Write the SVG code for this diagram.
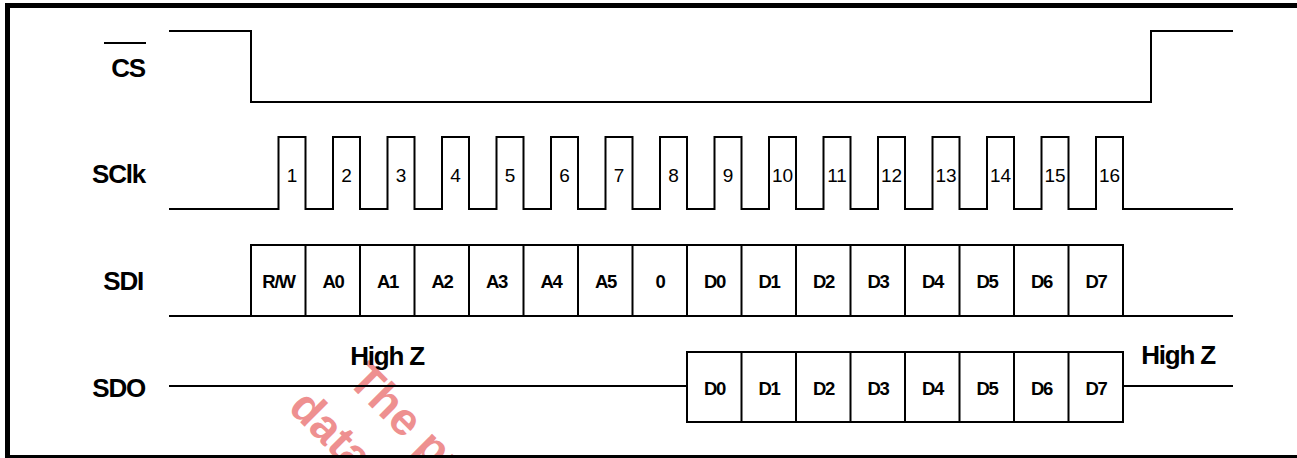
<svg xmlns="http://www.w3.org/2000/svg" width="1297" height="458" viewBox="0 0 1297 458">
<style>
.w{fill:none;stroke:#000;stroke-width:2}
.lbl{font-family:"Liberation Sans",Arial,sans-serif;font-weight:bold;font-size:26px;letter-spacing:-1.2px;fill:#000}
.cell{font-family:"Liberation Sans",Arial,sans-serif;font-weight:bold;font-size:18.5px;letter-spacing:-1.2px;fill:#000;text-anchor:middle}
.num{font-family:"Liberation Sans",Arial,sans-serif;font-size:19px;fill:#000;text-anchor:middle}
.wm{font-family:"Liberation Sans",Arial,sans-serif;font-weight:bold;font-size:46px;fill:#ee9090}
</style>
<rect x="0" y="0" width="1297" height="458" fill="#fff"/>
<g id="watermark">
<text class="wm" transform="translate(346,382) rotate(45)">The pr</text>
<text class="wm" transform="translate(287,409) rotate(45)">data</text>
</g>
<g id="frame"><rect x="7.5" y="5.5" width="1300" height="452" fill="none" stroke="#000" stroke-width="5"/></g>
<g id="cs">
<text class="lbl" x="145" y="77" text-anchor="end">CS</text>
<line x1="104" y1="43" x2="146" y2="43" stroke="#000" stroke-width="2"/>
<path class="w" d="M169,31 H251 V102 H1151 V31 H1233"/>
</g>
<g id="sclk">
<text class="lbl" x="145" y="183" text-anchor="end">SClk</text>
<path class="w" d="M169,209 H278.5 V137 H305.5 V209 H333 V137 H360 V209 H387.5 V137 H414.5 V209 H442 V137 H469 V209 H496.5 V137 H523.5 V209 H551 V137 H578 V209 H605.5 V137 H632.5 V209 H660 V137 H687 V209 H714.5 V137 H741.5 V209 H769 V137 H796 V209 H823.5 V137 H850.5 V209 H878 V137 H905 V209 H932.5 V137 H959.5 V209 H987 V137 H1014 V209 H1041.5 V137 H1068.5 V209 H1096 V137 H1123 V209 H1233"/>
<text class="num" x="292" y="182">1</text>
<text class="num" x="346.5" y="182">2</text>
<text class="num" x="401" y="182">3</text>
<text class="num" x="455.5" y="182">4</text>
<text class="num" x="510" y="182">5</text>
<text class="num" x="564.5" y="182">6</text>
<text class="num" x="619" y="182">7</text>
<text class="num" x="673.5" y="182">8</text>
<text class="num" x="728" y="182">9</text>
<text class="num" x="782.5" y="182">10</text>
<text class="num" x="837" y="182">11</text>
<text class="num" x="891.5" y="182">12</text>
<text class="num" x="946" y="182">13</text>
<text class="num" x="1000.5" y="182">14</text>
<text class="num" x="1055" y="182">15</text>
<text class="num" x="1109.5" y="182">16</text>
</g>
<g id="sdi">
<text class="lbl" x="143" y="290" text-anchor="end">SDI</text>
<path class="w" d="M169,316 H1233 M251,316 V245 H1123 V316"/>
<path class="w" d="M305.5,245 V316 M360,245 V316 M414.5,245 V316 M469,245 V316 M523.5,245 V316 M578,245 V316 M632.5,245 V316 M687,245 V316 M741.5,245 V316 M796,245 V316 M850.5,245 V316 M905,245 V316 M959.5,245 V316 M1014,245 V316 M1068.5,245 V316"/>
<text class="cell" x="278.5" y="288">R/W</text>
<text class="cell" x="333" y="288">A0</text>
<text class="cell" x="387.5" y="288">A1</text>
<text class="cell" x="442" y="288">A2</text>
<text class="cell" x="496.5" y="288">A3</text>
<text class="cell" x="551" y="288">A4</text>
<text class="cell" x="605.5" y="288">A5</text>
<text class="cell" x="660" y="288">0</text>
<text class="cell" x="714.5" y="288">D0</text>
<text class="cell" x="769" y="288">D1</text>
<text class="cell" x="823.5" y="288">D2</text>
<text class="cell" x="878" y="288">D3</text>
<text class="cell" x="932.5" y="288">D4</text>
<text class="cell" x="987" y="288">D5</text>
<text class="cell" x="1041.5" y="288">D6</text>
<text class="cell" x="1096" y="288">D7</text>
</g>
<g id="sdo">
<text class="lbl" x="145" y="397" text-anchor="end">SDO</text>
<text class="lbl" x="387" y="365" text-anchor="middle">High Z</text>
<text class="lbl" x="1178" y="364" text-anchor="middle">High Z</text>
<path class="w" d="M169,386 H687 M1123,386 H1233"/>
<rect class="w" x="687" y="352" width="436" height="70"/>
<path class="w" d="M741.5,352 V422 M796,352 V422 M850.5,352 V422 M905,352 V422 M959.5,352 V422 M1014,352 V422 M1068.5,352 V422"/>
<text class="cell" x="714.5" y="395">D0</text>
<text class="cell" x="769" y="395">D1</text>
<text class="cell" x="823.5" y="395">D2</text>
<text class="cell" x="878" y="395">D3</text>
<text class="cell" x="932.5" y="395">D4</text>
<text class="cell" x="987" y="395">D5</text>
<text class="cell" x="1041.5" y="395">D6</text>
<text class="cell" x="1096" y="395">D7</text>
</g>
</svg>
